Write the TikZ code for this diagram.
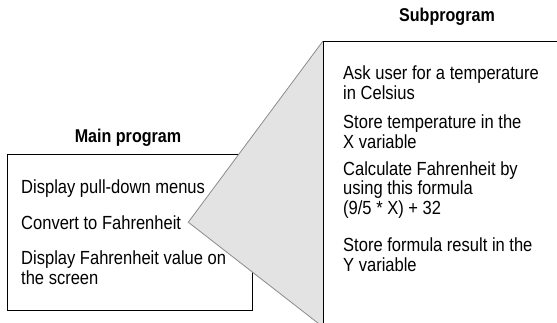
\documentclass[tikz,border=0pt]{standalone}
\usepackage{fontspec}
\setmainfont{Liberation Sans}[FakeStretch=0.87]
\usetikzlibrary{positioning, calc}

\begin{document}
\begin{tikzpicture}[x=1pt, y=-1pt,
    title/.style={font=\fontsize{18.5}{20}\selectfont\bfseries, anchor=base, inner sep=0pt},
    item/.style={font=\fontsize{19}{19.5}\selectfont, align=left, anchor=base west, inner sep=0pt},
    frame/.style={draw=black, line width=0.9pt},
    zoomfill/.style={fill=black!11},
    zoomline/.style={draw=black!45, line width=0.8pt}
]
    \useasboundingbox (0,0) rectangle (557,322);
    \clip (0,0) rectangle (557,322);

    % main program (base anchor = last line)
    \node[frame, minimum width=245pt, minimum height=156pt, inner sep=0pt, anchor=north west] (mainbox) at (7,154) {};
    \node[title] (maintitle) at (128,142) {Main program};
    \node[item] (menus) at (21,193) {Display pull-down menus};
    \node[item] (convert) at (21,229) {Convert to Fahrenheit};
    \node[item] (show) at (21,284) {Display Fahrenheit value on\\the screen};

    % zoom wedge
    \coordinate (apex) at ($(convert.east)+(7,0)$);
    \coordinate (wtop) at (323,41);
    \coordinate (wbot) at (323,327);
    \fill[zoomfill] (apex) -- (wtop) -- (wbot) -- cycle;
    \draw[zoomline] (wtop) -- (apex) -- (wbot);

    % subprogram
    \node[frame, minimum width=260pt, minimum height=320pt, inner sep=0pt, anchor=north west] (subbox) at (wtop) {};
    \node[title] (subtitle) at (447,21) {Subprogram};
    \node[item] (ask) at (343,99) {Ask user for a temperature\\in Celsius};
    \node[item] (storex) at (343,148) {Store temperature in the\\X variable};
    \node[item] (calc) at (343,214) {Calculate Fahrenheit by\\using this formula\\(9/5 * X) + 32};
    \node[item] (storey) at (343,271) {Store formula result in the\\Y variable};
\end{tikzpicture}
\end{document}
